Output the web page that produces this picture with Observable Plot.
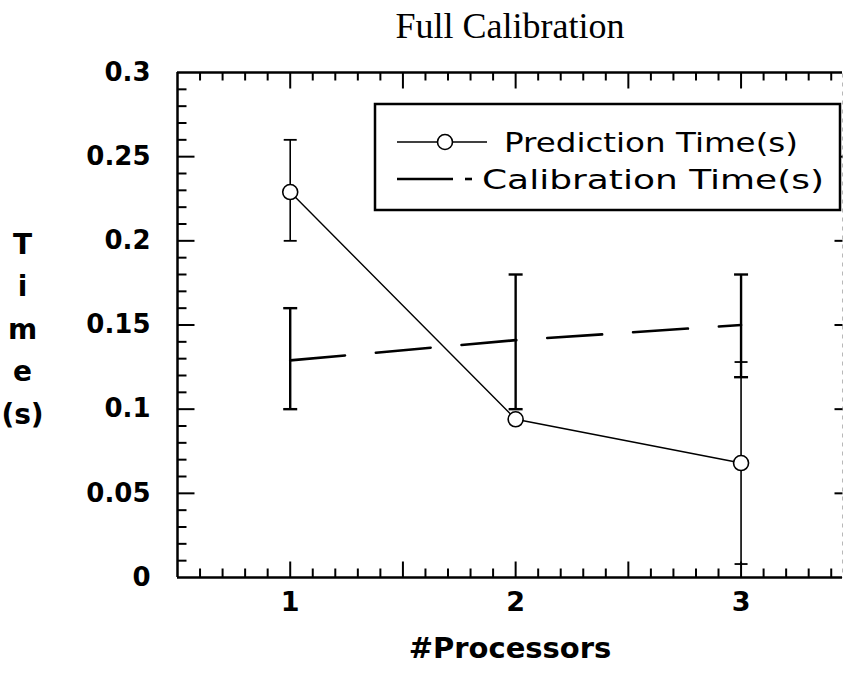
<!DOCTYPE html>
<html><head><meta charset="utf-8">
<script src="https://cdn.jsdelivr.net/npm/d3@7"></script>
<script src="https://cdn.jsdelivr.net/npm/@observablehq/plot@0.6"></script>
<style>
body{margin:0;background:#fff;}
#wrap{position:relative;width:843px;height:684px;overflow:hidden;background:#fff;}
#title{position:absolute;left:177px;width:666px;top:6px;text-align:center;font-family:"Liberation Serif",serif;font-size:36px;line-height:40px;color:#000;}
#legend{position:absolute;left:0;top:0;pointer-events:none;}
</style></head><body>
<div id="wrap"><div id="chart"></div><div id="title">Full Calibration</div></div>
<script>
// ---- data ----
const processors = [1, 2, 3];
const predictionTime = [0.229, 0.094, 0.068];
const predictionLow = [0.2, null, 0.008];
const predictionHigh = [0.26, null, 0.128];
const calibrationTime = [0.129, 0.141, 0.150];
const calibrationLow = [0.1, 0.1, 0.119];
const calibrationHigh = [0.16, 0.18, 0.18];
const seriesNames = ["Prediction Time(s)", "Calibration Time(s)"];
const xTickLabels = [1, 2, 3];
const yTickLabels = [0, 0.05, 0.1, 0.15, 0.2, 0.25, 0.3];
const xDomain = [0.5, 3.45];
const yDomain = [0, 0.3];
const xAxisTitle = "#Processors";
const yAxisTitle = "T\ni\nm\ne\n(s)";

// ---- derived ----
const pred = processors.map((p, i) => ({p, t: predictionTime[i], lo: predictionLow[i], hi: predictionHigh[i]}));
const cal = processors.map((p, i) => ({p, t: calibrationTime[i], lo: calibrationLow[i], hi: calibrationHigh[i]}));
const predErr = pred.filter(d => d.hi != null);
const calErr = cal.filter(d => d.hi != null);
const xMinor = d3.range(6, 35).filter(i => i % 5 !== 0).map(i => i / 10);
const xMajor = d3.range(10, 35, 5).map(i => i / 10);
const yMinor = d3.range(1, 30).filter(i => i % 5 !== 0).map(i => i / 100);
const yMajor = d3.range(5, 30, 5).map(i => i / 100);

// custom line symbols
const seg = (dx, dy, len, centered) => ({
  draw(ctx) {
    const s = centered ? -len / 2 : 0;
    ctx.moveTo(dx * s, dy * s);
    ctx.lineTo(dx * (s + len), dy * (s + len));
  }
});
const tickMark = (data, acc, anchor, dx, dy, len, sw) =>
  Plot.dot(data, {[acc]: d => d, frameAnchor: anchor, symbol: seg(dx, dy, len, false), stroke: "black", fill: "none", strokeWidth: sw});

const chart = Plot.plot({
  width: 843, height: 684,
  marginLeft: 177, marginRight: 1, marginTop: 72, marginBottom: 107,
  x: {domain: xDomain},
  y: {domain: yDomain},
  style: {fontFamily: "DejaVu Sans", color: "#000", background: "transparent", overflow: "visible"},
  marks: [
    Plot.frame({stroke: "#b8b8b8", strokeWidth: 1, strokeDasharray: "4,5"}),
    Plot.ruleY(yDomain, {stroke: "black", strokeWidth: 2.5}),
    Plot.ruleX([xDomain[0]], {stroke: "black", strokeWidth: 2.5}),
    // inward ticks
    tickMark(yMinor, "y", "left", 1, 0, 9, 2),
    tickMark(yMajor, "y", "left", 1, 0, 17, 2),
    tickMark(yMajor, "y", "right", -1, 0, 8, 2),
    tickMark(xMinor, "x", "bottom", 0, -1, 9, 2),
    tickMark(xMajor, "x", "bottom", 0, -1, 16, 2),
    tickMark(xMinor, "x", "top", 0, 1, 8, 2),
    tickMark(xMajor, "x", "top", 0, 1, 16, 2),
    // axes labels
    Plot.axisY({ticks: yTickLabels, tickSize: 0, tickPadding: 27, tickFormat: d => String(d), fontSize: 26, fontWeight: "bold", label: null}),
    Plot.axisX({ticks: xTickLabels, tickSize: 0, tickPadding: 14, tickFormat: d => String(d), fontSize: 27, fontWeight: "bold", label: null}),
    Plot.text([xAxisTitle], {frameAnchor: "bottom", dy: 80, fontSize: 29, fontWeight: "bold"}),
    Plot.text([yAxisTitle], {frameAnchor: "left", textAnchor: "middle", dx: -155, fontSize: 28, fontWeight: "bold", lineHeight: 1.52}),
    // calibration series
    Plot.line(cal, {x: "p", y: "t", stroke: "black", strokeWidth: 2.6, strokeDasharray: "55,31"}),
    Plot.ruleX(calErr, {x: "p", y1: "lo", y2: "hi", stroke: "black", strokeWidth: 2.4}),
    Plot.dot(calErr, {x: "p", y: "lo", symbol: seg(1, 0, 14, true), stroke: "black", fill: "none", strokeWidth: 2.4}),
    Plot.dot(calErr, {x: "p", y: "hi", symbol: seg(1, 0, 14, true), stroke: "black", fill: "none", strokeWidth: 2.4}),
    // prediction series
    Plot.ruleX(predErr, {x: "p", y1: "lo", y2: "hi", stroke: "black", strokeWidth: 1.6}),
    Plot.dot(predErr, {x: "p", y: "lo", symbol: seg(1, 0, 13, true), stroke: "black", fill: "none", strokeWidth: 1.8}),
    Plot.dot(predErr, {x: "p", y: "hi", symbol: seg(1, 0, 13, true), stroke: "black", fill: "none", strokeWidth: 1.8}),
    Plot.line(pred, {x: "p", y: "t", stroke: "black", strokeWidth: 1.4}),
    Plot.dot(pred, {x: "p", y: "t", r: 7.5, fill: "white", stroke: "black", strokeWidth: 1.6})
  ]
});
document.getElementById("chart").appendChild(chart);

// ---- legend (HTML overlay) ----
const lg = d3.select("#wrap").append("svg").attr("id", "legend").attr("width", 843).attr("height", 684);
lg.append("rect").attr("x", 375).attr("y", 104).attr("width", 465).attr("height", 106)
  .attr("fill", "white").attr("stroke", "black").attr("stroke-width", 2.5);
lg.append("line").attr("x1", 397).attr("x2", 487).attr("y1", 142).attr("y2", 142).attr("stroke", "black").attr("stroke-width", 1.4);
lg.append("circle").attr("cx", 445).attr("cy", 142).attr("r", 7.5).attr("fill", "white").attr("stroke", "black").attr("stroke-width", 1.6);
lg.append("line").attr("x1", 397).attr("x2", 453).attr("y1", 179).attr("y2", 179).attr("stroke", "black").attr("stroke-width", 2.6);
lg.append("line").attr("x1", 465).attr("x2", 472).attr("y1", 179).attr("y2", 179).attr("stroke", "black").attr("stroke-width", 2.6);
lg.append("text").attr("x", 504).attr("y", 152).attr("font-family", "DejaVu Sans").attr("font-size", 27)
  .attr("textLength", 294).attr("lengthAdjust", "spacingAndGlyphs").text(seriesNames[0]);
lg.append("text").attr("x", 482).attr("y", 189).attr("font-family", "DejaVu Sans").attr("font-size", 27)
  .attr("textLength", 342).attr("lengthAdjust", "spacingAndGlyphs").text(seriesNames[1]);
</script>
</body></html>
